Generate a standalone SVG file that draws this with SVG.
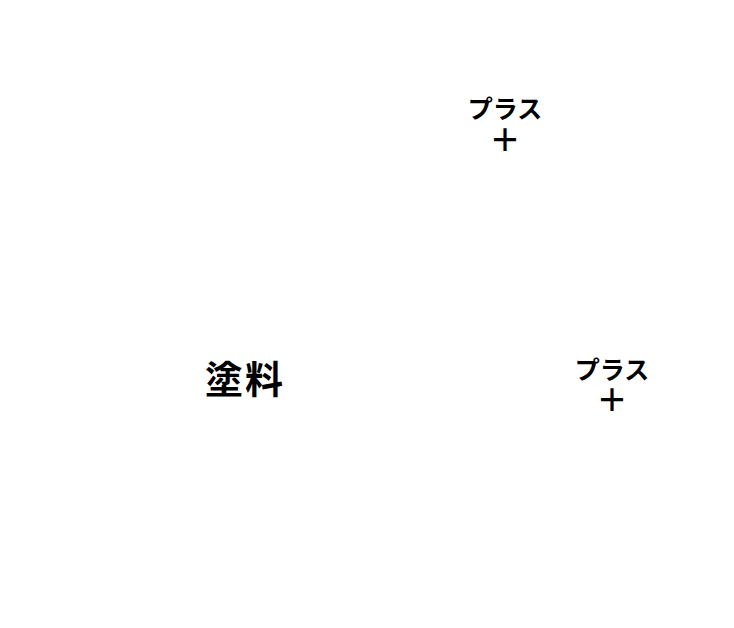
<svg xmlns="http://www.w3.org/2000/svg" width="734" height="628" viewBox="0 0 734 628">
<style>
text{font-family:"Noto Sans CJK JP","Noto Sans",sans-serif;fill:#000;text-anchor:middle}
.p{font-size:25px;font-weight:bold}
.plus{font-size:31px;font-weight:bold}
.m{font-size:38px;font-weight:bold;letter-spacing:2px}
</style>
<rect width="734" height="628" fill="#fff"/>
<g id="plus1"><text class="p" x="505" y="118">プラス</text><text class="plus" x="505" y="151">＋</text></g>
<g id="paint"><text class="m" x="245" y="393">塗料</text></g>
<g id="plus2"><text class="p" x="612" y="379">プラス</text><text class="plus" x="612" y="411">＋</text></g>
<g id="connectors"></g>
</svg>
